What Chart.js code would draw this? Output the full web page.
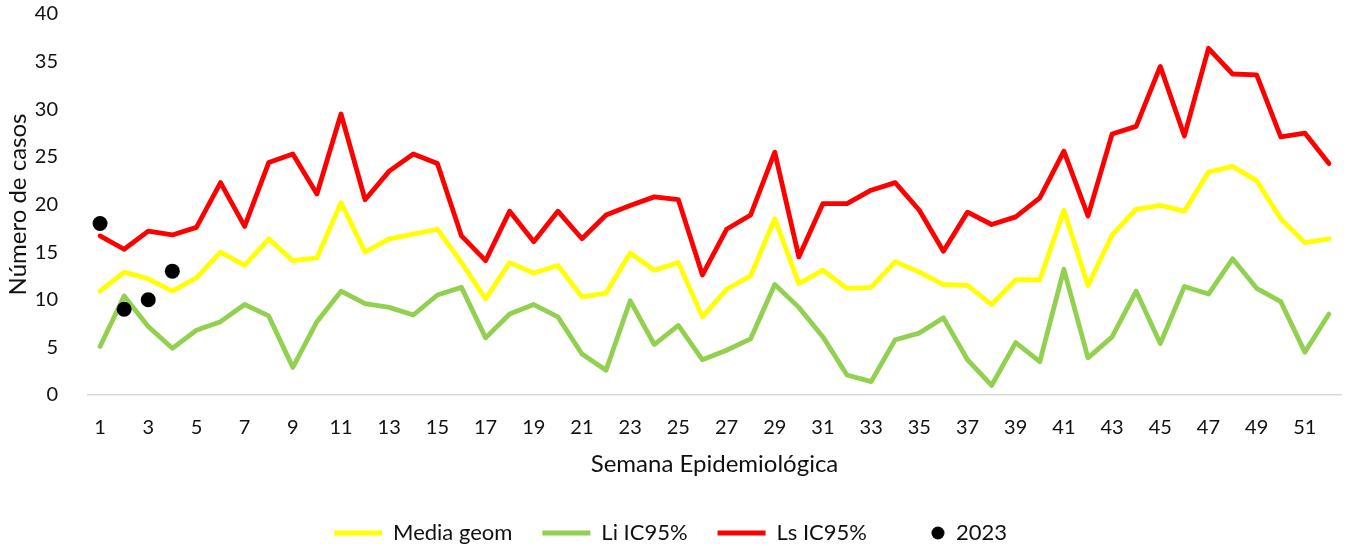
<!DOCTYPE html>
<html>
<head>
<meta charset="utf-8">
<script src="https://cdn.jsdelivr.net/npm/chart.js@4.4.0/dist/chart.umd.min.js"></script>
<style>
  html, body { margin: 0; padding: 0; background: #fff; }
  #wrap { width: 1350px; height: 551px; position: relative; }
</style>
</head>
<body>
<div id="wrap"><canvas id="c"></canvas></div>
<script>
/* Casos por semana epidemiológica: media geométrica, IC95% y 2023 */
const WEEKS = Array.from({ length: 52 }, (_, i) => String(i + 1));

const MEDIA_GEOM = [10.9, 12.9, 12.2, 10.9, 12.3, 15.0, 13.6, 16.4, 14.1, 14.4,
  20.2, 15.0, 16.4, 16.9, 17.4, 13.9, 10.1, 13.9, 12.8, 13.6,
  10.3, 10.7, 14.9, 13.1, 13.9, 8.2, 11.1, 12.5, 18.5, 11.7,
  13.1, 11.2, 11.3, 14.0, 12.9, 11.6, 11.5, 9.5, 12.1, 12.1,
  19.4, 11.5, 16.8, 19.5, 19.9, 19.3, 23.4, 24.0, 22.5, 18.5,
  16.0, 16.4];

const LI_IC95 = [5.1, 10.4, 7.2, 4.9, 6.8, 7.7, 9.5, 8.3, 2.9, 7.7,
  10.9, 9.6, 9.2, 8.4, 10.5, 11.3, 6.0, 8.5, 9.5, 8.2,
  4.3, 2.6, 9.9, 5.3, 7.3, 3.7, 4.7, 5.9, 11.6, 9.2,
  6.1, 2.1, 1.4, 5.8, 6.5, 8.1, 3.7, 1.0, 5.5, 3.5,
  13.2, 3.9, 6.1, 10.9, 5.4, 11.4, 10.6, 14.3, 11.2, 9.8,
  4.5, 8.5];

const LS_IC95 = [16.7, 15.3, 17.2, 16.8, 17.6, 22.3, 17.7, 24.4, 25.3, 21.1,
  29.5, 20.5, 23.5, 25.3, 24.3, 16.7, 14.1, 19.3, 16.1, 19.3,
  16.4, 18.9, 19.9, 20.8, 20.5, 12.6, 17.4, 18.9, 25.5, 14.5,
  20.1, 20.1, 21.5, 22.3, 19.4, 15.1, 19.2, 17.9, 18.7, 20.7,
  25.6, 18.8, 27.4, 28.2, 34.5, 27.2, 36.4, 33.7, 33.6, 27.1,
  27.5, 24.3];

const CASOS_2023 = [18, 9, 10, 13];

const Y_TICKS = { min: 0, max: 40, step: 5 };
const FONT = 'Lato, "Open Sans", sans-serif';
const INK = '#111';

// legend icon for the 2023 dot (same width as the line samples)
const dotIcon = document.createElement('canvas');
dotIcon.width = 48; dotIcon.height = 14;
(function () {
  const g = dotIcon.getContext('2d');
  g.fillStyle = '#000';
  g.beginPath(); g.arc(41, 7, 6.5, 0, Math.PI * 2); g.fill();
})();

const line = (label, data, color) => ({
  label, data, borderColor: color, backgroundColor: color,
  borderWidth: 4.8, pointRadius: 0, pointHoverRadius: 0, tension: 0,
  borderJoinStyle: 'round', borderCapStyle: 'round', order: 2
});

new Chart(document.getElementById('c'), {
  type: 'line',
  data: {
    labels: WEEKS,
    datasets: [
      line('Media geom', MEDIA_GEOM, '#FFFF00'),
      line('Li IC95%', LI_IC95, '#92D050'),
      line('Ls IC95%', LS_IC95, '#FF0000'),
      { label: '2023', data: CASOS_2023, showLine: false, borderColor: '#000',
        backgroundColor: '#000', pointRadius: 7.5, pointBorderWidth: 0, order: 1 }
    ]
  },
  options: {
    responsive: true, maintainAspectRatio: false, animation: false,
    layout: { padding: { top: 14, right: 9, left: 0, bottom: -3 } },
    scales: {
      x: {
        offset: true,
        grid: { display: false },
        border: { color: '#D9D9D9', width: 1.5 },
        ticks: { autoSkip: false, maxRotation: 0, padding: 13, color: INK,
                 font: { family: FONT, size: 20 },
                 callback: (v, i) => i % 2 === 0 ? WEEKS[i] : '' },
        title: { display: true, text: 'Semana Epidemiológica', color: INK,
                 font: { family: FONT, size: 24 }, padding: { top: 0, bottom: 13 } },
        afterFit: s => { s.height = 97; }
      },
      y: {
        min: Y_TICKS.min, max: Y_TICKS.max,
        grid: { display: false },
        border: { display: false },
        ticks: { stepSize: Y_TICKS.step, padding: 22, color: INK,
                 font: { family: FONT, size: 20 } },
        title: { display: true, text: 'Número de casos', color: INK,
                 font: { family: FONT, size: 24 }, padding: { top: 4, bottom: 0 } },
        afterFit: s => { s.width = 88; s.paddingTop = 0; s.paddingBottom = 0; }
      }
    },
    plugins: {
      legend: {
        position: 'bottom',
        labels: {
          usePointStyle: true, pointStyleWidth: 48, padding: 30, color: INK,
          font: { family: FONT, size: 22 },
          sort: (a, b) => a.datasetIndex - b.datasetIndex,
          generateLabels: chart => {
            const items = Chart.defaults.plugins.legend.labels.generateLabels(chart);
            items.forEach(it => { it.pointStyle = it.text === '2023' ? dotIcon : 'line'; });
            return items;
          }
        }
      },
      tooltip: { enabled: false }
    }
  }
});
</script>
</body>
</html>
